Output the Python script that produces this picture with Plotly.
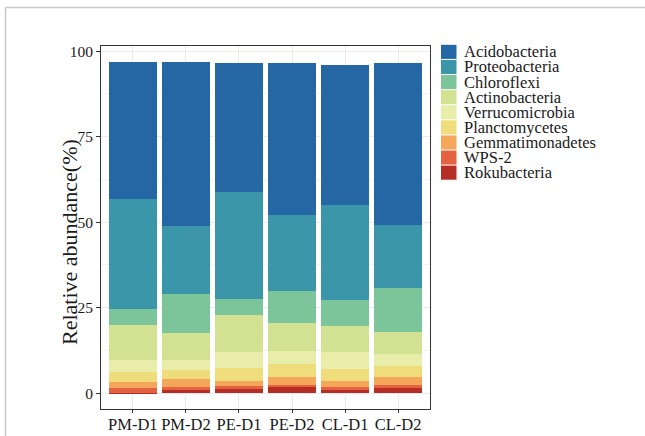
import plotly.graph_objects as go

samples = ["PM-D1", "PM-D2", "PE-D1", "PE-D2", "CL-D1", "CL-D2"]

# legend order (top to bottom)
phyla = ["Acidobacteria", "Proteobacteria", "Chloroflexi", "Actinobacteria",
         "Verrucomicrobia", "Planctomycetes", "Gemmatimonadetes", "WPS-2", "Rokubacteria"]

acidobacteria    = [40.1, 48.1, 37.7, 44.4, 40.9, 47.3]
proteobacteria   = [32.1, 19.7, 31.2, 22.1, 27.9, 18.4]
chloroflexi      = [4.7, 11.5, 4.7, 9.6, 7.4, 13.1]
actinobacteria   = [10.4, 8.0, 10.7, 7.9, 7.8, 6.4]
verrucomicrobia  = [3.3, 2.7, 4.8, 3.8, 5.0, 3.3]
planctomycetes   = [2.9, 2.6, 3.7, 4.0, 3.3, 3.2]
gemmatimonadetes = [1.9, 2.5, 1.5, 2.2, 1.9, 2.4]
wps2             = [1.3, 0.8, 0.8, 0.7, 0.8, 1.0]
rokubacteria     = [0.2, 1.0, 1.3, 1.8, 1.0, 1.5]

values = [acidobacteria, proteobacteria, chloroflexi, actinobacteria,
          verrucomicrobia, planctomycetes, gemmatimonadetes, wps2, rokubacteria]

colors = ["#2566A5", "#3A96A8", "#7CC49A", "#D2E192", "#E8EDAA",
          "#EEDD7A", "#F4A75A", "#E4623F", "#B52D23"]

fig = go.Figure()
# stack from bottom (Rokubacteria) to top (Acidobacteria)
for name, vals, col in reversed(list(zip(phyla, values, colors))):
    fig.add_trace(go.Bar(x=samples, y=vals, name=name,
                         marker=dict(color=col, line=dict(width=0)),
                         showlegend=False))

W, H = 645, 436
L, R, T, B = 101, 430, 46, 409
pw, ph = R - L, B - T

def px(x):
    return (x - L) / pw

def py(y):
    return (B - y) / ph

font_family = "Liberation Serif"
txt = "#1a1a1a"

fig.update_layout(
    width=W, height=H,
    margin=dict(l=L, r=W - R, t=T, b=H - B, pad=0, autoexpand=False),
    barmode="stack", bargap=0.1,
    plot_bgcolor="white", paper_bgcolor="white",
    font=dict(family=font_family, color=txt, size=15.5),
)
fig.update_xaxes(
    range=[-0.6, 5.6], showgrid=True, gridcolor="#ebebeb", gridwidth=1,
    showline=True, mirror=True, linecolor="#333333", linewidth=1,
    ticks="outside", ticklen=3, tickcolor="#333333", automargin=False,
    ticklabelstandoff=-3,
    tickfont=dict(size=16.5, family=font_family, color=txt), zeroline=False,
)
fig.update_yaxes(
    range=[-4.6, 101.5], tickvals=[0, 25, 50, 75, 100],
    showgrid=True, gridcolor="#ebebeb", gridwidth=1,
    minor=dict(tickvals=[12.5, 37.5, 62.5, 87.5], showgrid=True, gridcolor="#f3f3f3"),
    showline=True, mirror=True, linecolor="#333333", linewidth=1,
    ticks="outside", ticklen=4, tickcolor="#333333", automargin=False,
    tickfont=dict(size=15.5, family=font_family, color=txt), zeroline=False,
)

# y-axis title
fig.add_annotation(text="Relative abundance(%)", xref="paper", yref="paper",
                   x=px(69), y=py(242), textangle=-90, showarrow=False,
                   xanchor="center", yanchor="middle",
                   font=dict(size=22, family=font_family, color=txt))

# custom legend built from phyla/colors lists
step = 15.1
top0 = 44.3
for i, (name, col) in enumerate(zip(phyla, colors)):
    y0 = top0 + i * step
    fig.add_shape(type="rect", xref="paper", yref="paper",
                  x0=px(441), x1=px(456.5), y0=py(y0 + 0.5), y1=py(y0 + step - 0.5),
                  fillcolor=col, line=dict(width=0))
    fig.add_annotation(text=name, xref="paper", yref="paper",
                       x=px(462), y=py(y0 + step / 2), showarrow=False,
                       xanchor="left", yanchor="middle",
                       font=dict(size=16.5, family=font_family, color=txt))

# image frame lines (top and left)
fig.add_shape(type="line", xref="paper", yref="paper",
              x0=px(5.5), x1=px(645), y0=py(7.5), y1=py(7.5),
              line=dict(color="#c8c8c8", width=1.5))
fig.add_shape(type="line", xref="paper", yref="paper",
              x0=px(5.5), x1=px(5.5), y0=py(7.5), y1=py(436),
              line=dict(color="#c8c8c8", width=1.5))

fig.write_html("out.html")
